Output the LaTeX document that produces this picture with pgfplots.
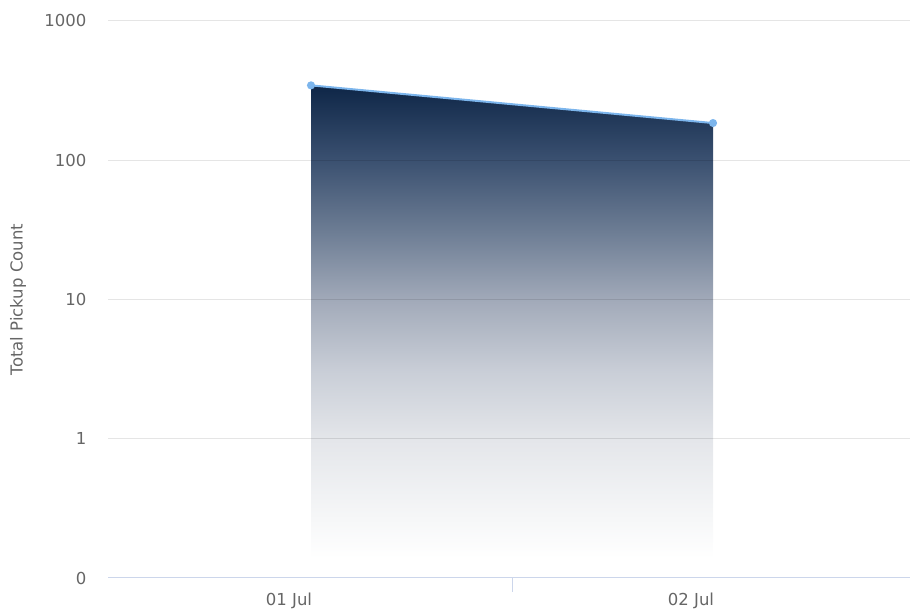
\documentclass[border=0pt]{standalone}
\usepackage{fontspec}
\setmainfont{DejaVu Sans}
\usepackage{pgfplots}
\pgfplotsset{compat=1.18}
\definecolor{labelgray}{HTML}{666666}
\definecolor{axisblue}{HTML}{CCD6EB}
\definecolor{lineblue}{HTML}{7CB5EC}
\definecolor{s100}{HTML}{0E2647}
\definecolor{s85}{HTML}{3A5070}
\definecolor{s70}{HTML}{6E7E95}
\definecolor{s56}{HTML}{A3ABBA}
\definecolor{s42}{HTML}{C9CED7}
\definecolor{s28}{HTML}{E4E6EA}
\definecolor{s12}{HTML}{F6F7F8}
\pgfdeclareverticalshading{areashade}{100bp}{color(0bp)=(white); color(25bp)=(white); color(27bp)=(white); color(31bp)=(s12); color(39bp)=(s28); color(46bp)=(s42); color(53bp)=(s56); color(60bp)=(s70); color(67.5bp)=(s85); color(75bp)=(s100); color(100bp)=(s100)}
\begin{document}
\begin{tikzpicture}
\useasboundingbox (0,0) rectangle (911pt,609pt);
\begin{axis}[
  at={(108pt,31pt)}, anchor=south west,
  scale only axis, width=802pt, height=557pt,
  ymode=log, log basis y=10,
  ymin=0.1, ymax=1000,
  xmin=-0.505, xmax=1.49,
  ytick={1,10,100,1000},
  yticklabels={1,10,100,1000},
  extra y ticks={0.1},
  extra y tick labels={0},
  extra y tick style={grid=none},
  xtick={0.5},
  xticklabels={},
  major tick length=14pt,
  xtick style={draw=axisblue, line width=1pt},
  x tick style={draw=axisblue, line width=1pt},
  tick align=outside,
  extra x ticks={0,1},
  extra x tick labels={01 Jul,02 Jul},
  extra x tick style={x tick style={draw=none}, xtick style={draw=none}},
  axis x line*=bottom, axis y line*=left,
  y axis line style={draw=none},
  x axis line style={draw=axisblue, line width=1pt, -},
  ymajorgrids, major grid style={draw=black, draw opacity=0.1, line width=1pt},
  y tick style={draw=none},
  minor ytick={}, yminorgrids=false,
  axis on top,
  /pgf/number format/assume math mode=true,
  ticklabel style={font=\fontsize{16.5}{20}\selectfont, text=labelgray},
  yticklabel style={xshift=-4pt},
  xticklabel style={yshift=3pt, xshift=-22pt},
  ylabel={Total Pickup Count},
  every axis y label/.style={at={(axis description cs:0,0.5)}, xshift=-90pt, rotate=90, anchor=center, font=\fontsize{16.5}{20}\selectfont, text=labelgray},
]
\addplot[draw=none, shading=areashade, forget plot] coordinates {(0,0.1) (0,345) (1,185) (1,0.1)};
\addplot[draw=lineblue, line width=2pt, mark=*, mark size=3pt, mark options={fill=lineblue, draw=lineblue}] coordinates {(0,345) (1,185)};
\end{axis}
\end{tikzpicture}
\end{document}
